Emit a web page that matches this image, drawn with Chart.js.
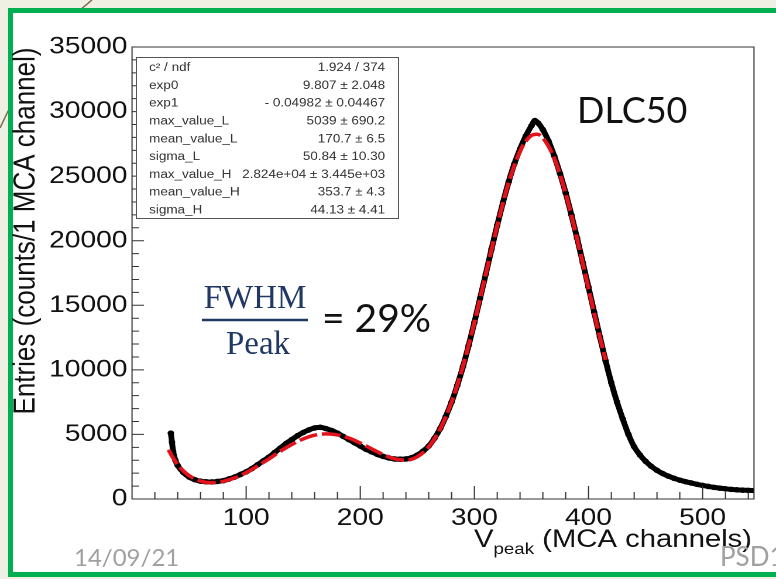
<!DOCTYPE html>
<html>
<head>
<meta charset="utf-8">
<script src="https://cdn.jsdelivr.net/npm/chart.js@4.4.1/dist/chart.umd.min.js"></script>
<style>
  body { margin: 0; width: 776px; height: 579px; background: #eef0e3; position: relative; overflow: hidden; }
  #slide { position: absolute; left: 8px; top: 8px; width: 800px; height: 569px; box-sizing: border-box;
           border: 5px solid #00b050; border-right: none; background: #fff; }
  #wrap { position: absolute; left: 0; top: 0; width: 663px; height: 579px; transform: scaleX(1.1704); transform-origin: 0 0; }
  #deco, #texts { position: absolute; left: 0; top: 0; }
</style>
</head>
<body>
<svg id="deco" width="776" height="579">
  <path d="M92 0 Q 40 40 0 128" stroke="#7d6b4c" stroke-width="1.5" fill="none"/>
</svg>
<div id="slide"></div>
<div id="wrap"><canvas id="chart" width="663" height="579"></canvas></div>
<svg id="texts" width="776" height="579">
  <text x="577" y="123" font-family="Lato" font-size="36" fill="#111">DLC50</text>
  <text x="255" y="308" text-anchor="middle" font-family="Liberation Serif" font-size="33" fill="#1f3864">FWHM</text>
  <line x1="202" y1="320" x2="308" y2="320" stroke="#1f3864" stroke-width="2.5"/>
  <text x="258" y="354" text-anchor="middle" font-family="Liberation Serif" font-size="33" fill="#1f3864">Peak</text>
  <text x="322" y="332" font-family="Lato" font-size="39" fill="#111">= 29%</text>
  <text x="74" y="566" font-family="Lato" font-size="24" fill="#a0a0a0">14/09/21</text>
  <text x="720" y="566" font-family="Lato" font-size="26" fill="#a0a0a0">PSD1</text>
</svg>
<script>
// ---- data ----
const dataX = [34, 35, 36, 38, 40, 45, 50, 55, 60, 65, 70, 75, 80, 85, 90, 95, 100, 105, 110, 115,
  120, 125, 130, 135, 140, 145, 150, 155, 160, 165, 170, 175, 180, 185, 190, 195, 200, 205, 210, 215,
  220, 225, 230, 235, 240, 245, 250, 255, 260, 265, 270, 275, 280, 285, 290, 295, 300, 305, 310, 315,
  320, 325, 330, 335, 340, 345, 350, 353, 356, 360, 365, 370, 375, 380, 385, 390, 395, 400, 405, 410,
  415, 420, 425, 430, 435, 440, 445, 450, 455, 460, 465, 470, 475, 480, 485, 490, 495, 500, 505, 510,
  515, 520, 525, 530, 535, 540, 545];
const dataY = [5100, 4400, 3700, 3000, 2600, 2050, 1700, 1500, 1380, 1330, 1320, 1360, 1420, 1550, 1700, 1900, 2100, 2350, 2650, 2950,
  3250, 3600, 3950, 4300, 4600, 4900, 5150, 5350, 5500, 5550, 5450, 5300, 5100, 4850, 4600, 4350, 4100, 3850, 3650, 3450,
  3300, 3180, 3100, 3080, 3100, 3200, 3400, 3700, 4100, 4700, 5450, 6400, 7500, 8800, 10250, 11900, 13680, 15550, 17420, 19350,
  21200, 22950, 24550, 25950, 27100, 28100, 28900, 29300, 29100, 28600, 27700, 26550, 25200, 23700, 22000, 20200, 18300, 16400, 14450, 12550,
  10700, 9000, 7500, 6200, 5000, 4050, 3420, 2920, 2530, 2220, 1970, 1770, 1600, 1460, 1340, 1240, 1140, 1050, 970, 900,
  840, 790, 745, 710, 685, 665, 655];

// fit curve (red dashed)
const fitX = [32, 35, 40, 45, 50, 55, 60, 65, 70, 75, 80, 90, 100, 110, 120, 130, 140, 150, 160, 170,
  180, 190, 200, 210, 220, 230, 240, 250, 260, 270, 280, 290, 300, 310, 320, 330, 340, 345, 350, 355,
  360, 370, 380, 390, 400, 410, 415];
const fitY = [3810, 3320, 2660, 2170, 1810, 1550, 1390, 1290, 1270, 1290, 1370, 1640, 2040, 2560, 3110, 3700, 4220, 4650, 4940, 5040,
  4960, 4720, 4330, 3880, 3440, 3110, 3010, 3280, 4040, 5420, 7500, 10280, 13670, 17420, 21160, 24490, 26930, 27700, 28150, 28240,
  27960, 26380, 23650, 20140, 16290, 12510, 10760];

const xTicks = [100, 200, 300, 400, 500];

const statLabels = ["c² / ndf", "exp0", "exp1", "max_value_L", "mean_value_L", "sigma_L", "max_value_H", "mean_value_H", "sigma_H"];
const statValues = ["1.924 / 374", "9.807 ± 2.048", "- 0.04982 ± 0.04467", "5039 ± 690.2", "170.7 ± 6.5", "50.84 ± 10.30",
  "2.824e+04 ± 3.445e+03", "353.7 ± 4.3", "44.13 ± 4.41"];

const SX = 1.1704; // the ROOT picture is stretched sideways on the slide
const FONT = '"Liberation Sans", Arial, sans-serif';

// ---- frame, inward ticks, stats box and axis titles, ROOT style ----
const rootLook = {
  id: 'rootLook',
  afterDraw(chart) {
    const { ctx, chartArea: a, scales: { x, y } } = chart;
    ctx.save();
    ctx.strokeStyle = '#333';
    ctx.lineWidth = 1;
    ctx.strokeRect(a.left, a.top, a.right - a.left, a.bottom - a.top);

    ctx.beginPath();
    for (let v = 20; v < 545; v += 20) {
      const px = x.getPixelForValue(v);
      const len = v % 100 === 0 ? 13 : 7;
      ctx.moveTo(px, a.bottom);
      ctx.lineTo(px, a.bottom - len);
    }
    for (let v = 1000; v < 35000; v += 1000) {
      const py = y.getPixelForValue(v);
      const len = (v % 5000 === 0 ? 12 : 7) / SX;
      ctx.moveTo(a.left, py);
      ctx.lineTo(a.left + len, py);
    }
    ctx.stroke();

    // stats box
    const bx = 116, by = 57, bw = 224, bh = 161;
    ctx.fillStyle = '#fff';
    ctx.fillRect(bx, by, bw, bh);
    ctx.strokeStyle = '#555';
    ctx.strokeRect(bx + 0.5, by + 0.5, bw, bh);
    ctx.font = '11.5px ' + FONT;
    ctx.fillStyle = '#333';
    ctx.textBaseline = 'middle';
    statLabels.forEach((lab, i) => {
      const cy = 67.9 + 17.8 * i;
      ctx.textAlign = 'left';
      ctx.fillText(lab, 127.4, cy);
      ctx.textAlign = 'right';
      ctx.fillText(statValues[i], 329, cy);
    });

    // axis titles
    ctx.fillStyle = '#111';
    ctx.textBaseline = 'alphabetic';
    ctx.textAlign = 'right';
    const xr = 642.5, base = 547;
    const rest = ' (MCA channels)';
    ctx.font = '25px ' + FONT;
    ctx.fillText(rest, xr, base);
    const wr = ctx.measureText(rest).width;
    ctx.font = '16px ' + FONT;
    ctx.fillText('peak', xr - wr, base + 7);
    const wp = ctx.measureText('peak').width;
    ctx.font = '25px ' + FONT;
    ctx.fillText('V', xr - wr - wp, base);

    ctx.translate(22.2, 231);
    ctx.rotate(-Math.PI / 2);
    ctx.textAlign = 'center';
    ctx.textBaseline = 'middle';
    ctx.font = '26px ' + FONT;
    ctx.fillText('Entries (counts/1 MCA channel)', 0, 0);
    ctx.restore();
  }
};

new Chart(document.getElementById('chart'), {
  type: 'scatter',
  data: {
    datasets: [
      {
        label: 'fit',
        data: fitX.map((v, i) => ({ x: v, y: fitY[i] })),
        showLine: true,
        borderColor: '#e3121b',
        borderWidth: 3.5,
        borderDash: [16, 4],
        pointRadius: 0,
        cubicInterpolationMode: 'monotone',
        order: 0
      },
      {
        label: 'data',
        data: dataX.map((v, i) => ({ x: v, y: dataY[i] })),
        showLine: true,
        borderColor: '#000',
        borderWidth: 5,
        pointRadius: 2.8,
        pointBackgroundColor: '#000',
        pointBorderWidth: 0,
        cubicInterpolationMode: 'monotone',
        order: 1
      }
    ]
  },
  options: {
    responsive: false,
    animation: false,
    devicePixelRatio: 2,
    layout: { padding: { left: 0, right: 18.8, top: 47, bottom: 50 } },
    plugins: { legend: { display: false }, tooltip: { enabled: false } },
    scales: {
      x: {
        type: 'linear', min: 0, max: 545,
        grid: { display: false, drawTicks: false },
        border: { display: false },
        afterBuildTicks: (s) => { s.ticks = xTicks.map(v => ({ value: v })); },
        afterFit: (s) => { s.height = 30; },
        ticks: { autoSkip: false, maxRotation: 0, padding: 5, color: '#111', font: { family: FONT, size: 24 }, callback: v => String(v) }
      },
      y: {
        min: 0, max: 35000,
        grid: { display: false, drawTicks: false },
        border: { display: false },
        afterFit: (s) => { s.width = 112.8; },
        ticks: { stepSize: 5000, padding: 4, color: '#111', font: { family: FONT, size: 24 }, callback: v => String(v) }
      }
    }
  },
  plugins: [rootLook]
});
</script>
</body>
</html>
